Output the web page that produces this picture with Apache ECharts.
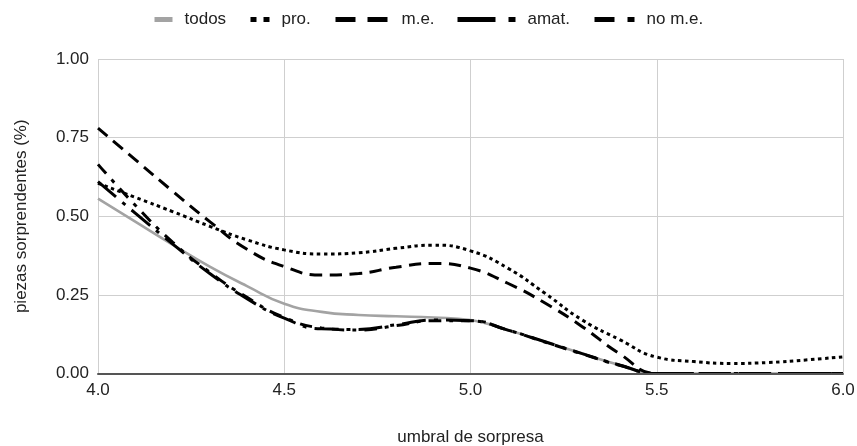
<!DOCTYPE html>
<html>
<head>
<meta charset="utf-8">
<script src="https://cdn.jsdelivr.net/npm/echarts@6/dist/echarts.min.js"></script>
<style>
html,body{margin:0;padding:0;background:#fff;}
#chart{width:857px;height:446px;}
</style>
</head>
<body>
<div id="chart"></div>
<script>
// x positions (umbral de sorpresa)
var xs = [4.0,4.1,4.2,4.3,4.4,4.5,4.6,4.7,4.8,4.9,5.0,5.1,5.2,5.3,5.4,5.5,5.6,5.7,5.8,5.9,6.0];
var seriesNames = ['todos','pro.','m.e.','amat.','no m.e.'];
var todos  = [0.556,0.483,0.410,0.340,0.278,0.222,0.196,0.186,0.182,0.178,0.170,0.138,0.101,0.063,0.027,0,0,0,0,0,0];
var pro    = [0.605,0.560,0.515,0.468,0.425,0.393,0.380,0.384,0.398,0.408,0.390,0.335,0.255,0.170,0.108,0.052,0.038,0.032,0.035,0.043,0.053];
var me     = [0.780,0.680,0.580,0.483,0.395,0.340,0.313,0.318,0.338,0.350,0.335,0.287,0.224,0.149,0.063,0,0,0,0,0,0];
var amat   = [0.610,0.510,0.412,0.318,0.238,0.176,0.142,0.140,0.155,0.170,0.168,0.138,0.101,0.063,0.027,0,0,0,0,0,0];
var nome   = [0.665,0.535,0.418,0.322,0.242,0.178,0.145,0.138,0.152,0.168,0.168,0.138,0.100,0.062,0.026,0,0,0,0,0,0];
var xTicks = [4.0,4.5,5.0,5.5,6.0];
var yTicks = [0,0.25,0.5,0.75,1.0];

function pairs(arr){ return xs.map(function(x,i){ return [x, arr[i]]; }); }

var FONT = 'Liberation Sans, Arial, Helvetica, sans-serif';
var TXT = '#222';

var styles = [
  {color:'#a3a3a3', width:2.6, type:'solid', lw:18, ltype:'solid', left:152},
  {color:'#000', width:3, type:[3.5,3.5], lw:19, ltype:[6,7], left:248},
  {color:'#000', width:3, type:[12.5,7.5], lw:54, ltype:[20,12], left:333},
  {color:'#000', width:3, type:[24,8,4,8], lw:58, ltype:[38,13,7,13], left:455},
  {color:'#000', width:3, type:[12.5,8,4,8], lw:40, ltype:[20,13,7,13], left:592}
];
var datas = [todos, pro, me, amat, nome];

var chart = echarts.init(document.getElementById('chart'), null, {renderer:'canvas'});
var legends = seriesNames.map(function(n,i){
  var s = styles[i];
  return {
    data:[n], left:s.left, top:11, itemWidth:s.lw, itemHeight:10, padding:0,
    selectedMode:false,
    itemStyle:{opacity:0, color:'rgba(0,0,0,0)', borderWidth:0},
    lineStyle:{width:5, type:s.ltype, cap:'butt', color:s.color, opacity:1},
    textStyle:{fontFamily:FONT, fontSize:17, color:TXT, padding:[0,0,0,7]}
  };
});
var series = seriesNames.map(function(n,i){
  var s = styles[i];
  return {
    name:n, type:'line', data:pairs(datas[i]), smooth:0.5,
    symbol:'none', showSymbol:false,
    xAxisIndex:0,
    lineStyle:{color:s.color, width:s.width, type:s.type, cap:'butt'},
    itemStyle:{color:s.color},
    z: i===0 ? 2 : 3,
    animation:false
  };
});

chart.setOption({
  animation:false,
  backgroundColor:'#fff',
  legend: legends,
  grid:{left:98, right:14, top:59, bottom:72.5, containLabel:false, outerBoundsMode:'none'},
  xAxis:[{
    type:'value', min:4, max:6, interval:0.5,
    name:'umbral de sorpresa', nameLocation:'middle', nameGap:55,
    nameTextStyle:{fontFamily:FONT, fontSize:17, color:TXT},
    axisLine:{show:false},
    axisTick:{show:false},
    axisLabel:{fontFamily:FONT, fontSize:17, color:TXT, margin:8,
      formatter:function(v){ return xTicks.indexOf(v)>=0 ? v.toFixed(1) : ''; }},
    splitLine:{show:true, lineStyle:{color:'#cfcfcf', width:1}}
  },{
    // baseline drawn above the series
    type:'value', min:4, max:6, interval:0.5, position:'bottom', z:10,
    axisLine:{show:true, onZero:false, lineStyle:{color:'#555', width:2}},
    axisTick:{show:false}, axisLabel:{show:false}, splitLine:{show:false}
  }],
  yAxis:{
    type:'value', min:0, max:1, interval:0.25,
    name:'piezas sorprendentes (%)', nameLocation:'middle', nameGap:68,
    nameTextStyle:{fontFamily:FONT, fontSize:17, color:TXT},
    axisLine:{show:false}, axisTick:{show:false},
    axisLabel:{fontFamily:FONT, fontSize:17, color:TXT, margin:9,
      formatter:function(v){ return yTicks.indexOf(v)>=0 ? v.toFixed(2) : ''; }},
    splitLine:{show:true, lineStyle:{color:'#cfcfcf', width:1}}
  },
  series: series
});
</script>
</body>
</html>
